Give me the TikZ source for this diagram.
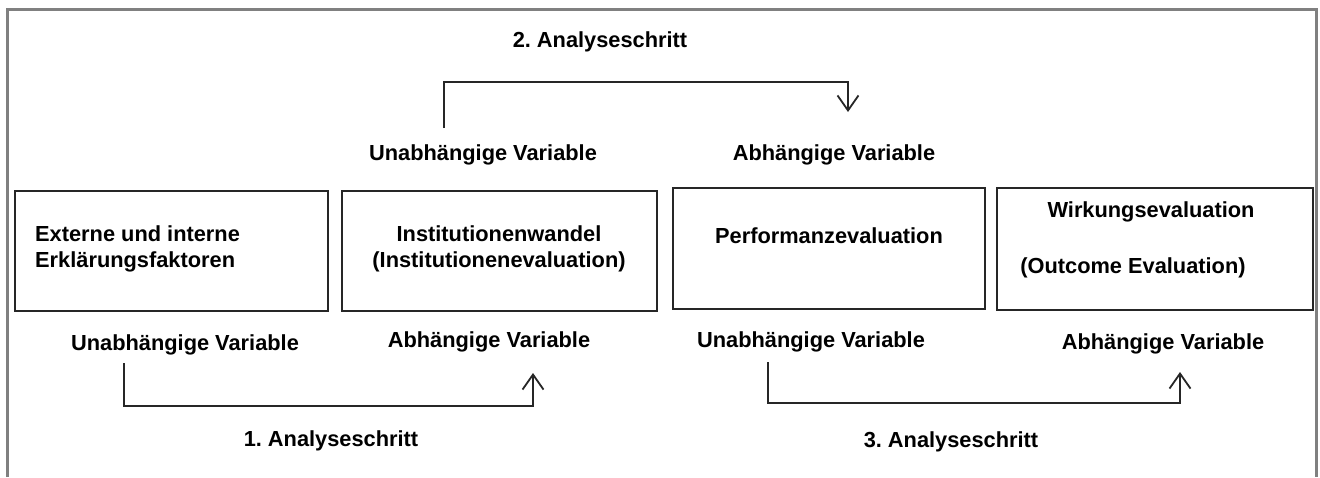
\documentclass[tikz,border=0pt]{standalone}
\usepackage{fontspec}
\setmainfont{Liberation Sans}
\usetikzlibrary{arrows.meta}
\begin{document}
\frenchspacing
\begin{tikzpicture}[x=1pt,y=-1pt,
  frame/.style={draw=black!50, line width=3pt},
  box/.style={draw=black!85, line width=2pt, inner sep=0pt},
  lbl/.style={inner sep=0pt, font=\fontsize{21.8}{26}\selectfont\bfseries\frenchspacing},
  conn/.style={draw=black!85, line width=1.8pt},
  tip/.style={-{Straight Barb[length=15pt,width=21pt,line width=1.8pt]}}]
\useasboundingbox (0,0) rectangle (1320,477);
\fill[white] (0,0) rectangle (1320,477);
\draw[frame] (7,477) -- (7,9) -- (1316,9) -- (1316,477);
% boxes
\node[box, minimum width=313pt, minimum height=120pt] (b1) at (171.5,251) {};
\node[box, minimum width=315pt, minimum height=120pt] (b2) at (499.5,251) {};
\node[box, minimum width=312pt, minimum height=121pt] (b3) at (829,248.5) {};
\node[box, minimum width=316pt, minimum height=122pt] (b4) at (1155,249) {};
% box texts
\node[lbl, anchor=west, align=left] (t1) at (35,249) {Externe und interne\\Erklärungsfaktoren};
\node[lbl, align=center] (t2) at (499,249) {Institutionenwandel\\(Institutionenevaluation)};
\node[lbl] (t3) at (829,236) {Performanzevaluation};
\node[lbl] (t4a) at (1151,212) {Wirkungsevaluation};
\node[lbl] (t4b) at (1133,268) {(Outcome Evaluation)};
% labels
\node[lbl] (s2) at (600,42) {2. Analyseschritt};
\node[lbl] (uvt) at (483,155) {Unabhängige Variable};
\node[lbl] (avt) at (834,155) {Abhängige Variable};
\node[lbl] (uv1) at (185,345) {Unabhängige Variable};
\node[lbl] (av1) at (489,342) {Abhängige Variable};
\node[lbl] (uv3) at (811,342) {Unabhängige Variable};
\node[lbl] (av3) at (1163,344) {Abhängige Variable};
\node[lbl] (s1) at (331,441) {1. Analyseschritt};
\node[lbl] (s3) at (951,442) {3. Analyseschritt};
% connector end points
\coordinate (c2a) at (444,128);
\coordinate (c2b) at (848,112);
\coordinate (c1a) at (124,363);
\coordinate (c1b) at (533,373);
\coordinate (c3a) at (768,362);
\coordinate (c3b) at (1180,372);
% connectors
\draw[conn, tip] (c2a) -- (444,82) -| (c2b);
\draw[conn, tip] (c1a) -- (124,406) -| (c1b);
\draw[conn, tip] (c3a) -- (768,403) -| (c3b);
\end{tikzpicture}
\end{document}
